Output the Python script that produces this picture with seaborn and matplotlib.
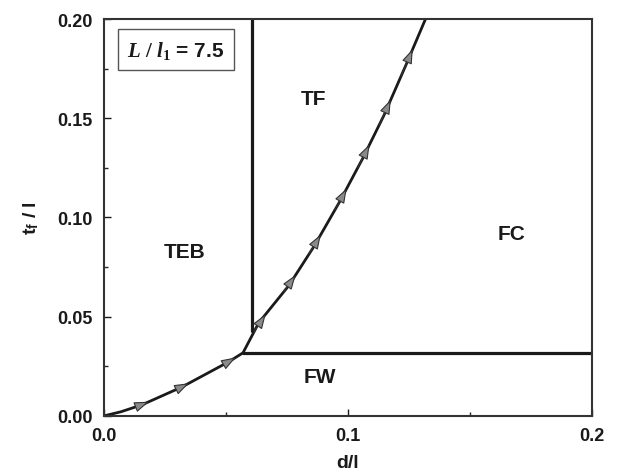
import numpy as np
import pandas as pd
import matplotlib
matplotlib.use("Agg")
import matplotlib.pyplot as plt
import seaborn as sns

# Phase boundary curve (TEB / FW lower branch, TEB / TF upper branch)
curve_d = [0.0, 0.007, 0.0156, 0.032, 0.0512, 0.057, 0.0635, 0.0758, 0.0861,
           0.0967, 0.1061, 0.1148, 0.1238, 0.132]
curve_t = [0.0, 0.0021, 0.0056, 0.0146, 0.0273, 0.0318, 0.047, 0.0657, 0.0854,
           0.1081, 0.1298, 0.1515, 0.1768, 0.2005]
# Arrow markers on the curve
arrow_d = [0.0156, 0.032, 0.0512, 0.0635, 0.0758, 0.0861, 0.0967, 0.1061, 0.1148, 0.1238]
arrow_t = [0.0056, 0.0146, 0.0273, 0.047, 0.0657, 0.0854, 0.1081, 0.1298, 0.1515, 0.1768]
# TF / FC vertical boundary
vert_d = [0.0607, 0.0607]
vert_t = [0.0429, 0.2]
# FW / FC horizontal boundary
horiz_d = [0.057, 0.2]
horiz_t = [0.0318, 0.0318]

region_labels = ["TEB", "TF", "FC", "FW"]
region_d = [0.033, 0.086, 0.167, 0.0885]
region_t = [0.0828, 0.160, 0.092, 0.020]

sns.set_theme(style="ticks")
plt.rcParams['font.family'] = ['Liberation Sans', 'DejaVu Sans']
plt.rcParams['mathtext.fontset'] = 'custom'
plt.rcParams['mathtext.it'] = 'Liberation Serif:bold:italic'
plt.rcParams['mathtext.rm'] = 'Liberation Serif:bold'
plt.rcParams['mathtext.bf'] = 'Liberation Sans:bold'

fig = plt.figure(figsize=(6.19, 4.77), dpi=100)
ax = fig.add_axes([0.168, 0.126, 0.788, 0.832])

curve_df = pd.DataFrame({"d": curve_d, "t": curve_t})
sns.lineplot(data=curve_df, x="d", y="t", sort=False, estimator=None,
             color="#1a1a1a", lw=2.0, ax=ax)
sns.lineplot(x=vert_d, y=vert_t, sort=False, estimator=None,
             color="#1a1a1a", lw=2.3, ax=ax)
sns.lineplot(x=horiz_d, y=horiz_t, sort=False, estimator=None,
             color="#1a1a1a", lw=2.3, ax=ax)

ax.set_xlim(0, 0.2)
ax.set_ylim(0, 0.2)

# arrow heads oriented along the curve
for xd, yt in zip(arrow_d, arrow_t):
    xa, xb = xd - 0.002, xd + 0.0028
    ax.annotate("", xy=(xb, np.interp(xb, curve_d, curve_t)),
                xytext=(xa, np.interp(xa, curve_d, curve_t)),
                arrowprops=dict(arrowstyle="-|>,head_length=0.9,head_width=0.32",
                                facecolor="#8a8a8a", edgecolor="#333333",
                                lw=0.8, shrinkA=0, shrinkB=0, mutation_scale=10),
                zorder=5)

for lab, xd, yt in zip(region_labels, region_d, region_t):
    ax.text(xd, yt, lab, ha="center", va="center", fontsize=15, fontweight="bold",
            color="#1a1a1a")

ax.text(0.0095, 0.1845, r"$L\ /\ l_1$" + " = 7.5", ha="left", va="center",
        fontsize=15, fontweight="bold", color="#1a1a1a",
        bbox=dict(boxstyle="square,pad=0.45", facecolor="white", edgecolor="#555555", lw=1.0))

ax.set_xticks([0.0, 0.1, 0.2])
ax.set_xticklabels(["0.0", "0.1", "0.2"])
ax.set_xticks([0.05, 0.15], minor=True)
ax.set_yticks([0.0, 0.05, 0.10, 0.15, 0.20])
ax.set_yticklabels(["0.00", "0.05", "0.10", "0.15", "0.20"])
ax.set_yticks([0.025, 0.075, 0.125, 0.175], minor=True)
ax.tick_params(axis="both", which="major", direction="in", length=5, width=1.0,
               labelsize=13, colors="#1a1a1a", pad=8)
ax.tick_params(axis="both", which="minor", direction="in", length=3, width=1.0)
for lbl in ax.get_xticklabels() + ax.get_yticklabels():
    lbl.set_fontweight("bold")

for sp in ax.spines.values():
    sp.set_visible(True)
    sp.set_linewidth(1.5)
    sp.set_color("#333333")

ax.set_xlabel("d/l", fontsize=14, fontweight="bold", color="#1a1a1a", labelpad=7)
ax.set_ylabel(r"$\mathbf{t}_\mathbf{f}$ / l", fontsize=14, fontweight="bold",
              color="#1a1a1a", labelpad=12)

fig.savefig("out.png", dpi=100)
